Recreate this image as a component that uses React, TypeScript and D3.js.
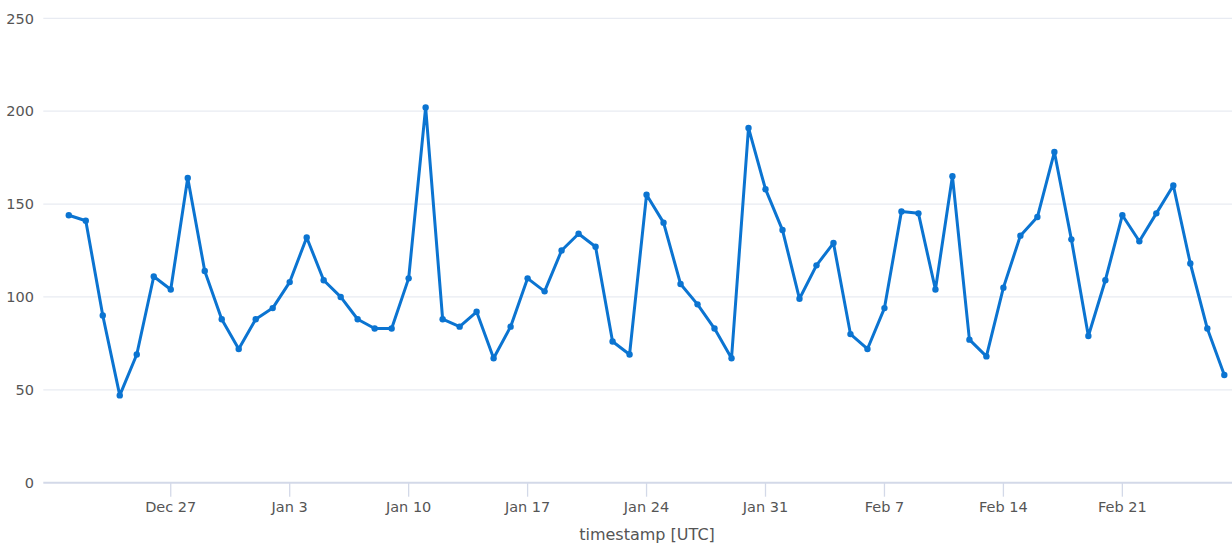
import React, { useEffect, useRef } from "react";
import * as d3 from "d3";

const startDate = "2020-12-21";
const values: number[] = [
  144, 141, 90, 47, 69, 111, 104, 164, 114, 88, 72, 88, 94, 108, 132, 109, 100, 88, 83, 83,
  110, 202, 88, 84, 92, 67, 84, 110, 103, 125, 134, 127, 76, 69, 155, 140, 107, 96, 83, 67,
  191, 158, 136, 99, 117, 129, 80, 72, 94, 146, 145, 104, 165, 77, 68, 105, 133, 143, 178, 131,
  79, 109, 144, 130, 145, 160, 118, 83, 58,
];
const xTickDates = ["2020-12-27", "2021-01-03", "2021-01-10", "2021-01-17", "2021-01-24", "2021-01-31", "2021-02-07", "2021-02-14", "2021-02-21"];
const yTicks = [0, 50, 100, 150, 200, 250];
const xTitle = "timestamp [UTC]";

const W = 1232;
const H = 548;
const FONT = "'DejaVu Sans', Verdana, sans-serif";

export default function App() {
  const ref = useRef<SVGSVGElement>(null);
  useEffect(() => {
    const svg = d3.select(ref.current);
    svg.selectAll("*").remove();
    const day = 86400000;
    const t0 = d3.utcParse("%Y-%m-%d")(startDate)!;
    const data = values.map((v, i) => ({ date: new Date(t0.getTime() + i * day), value: v }));
    const left = 43.3;
    const pxPerDay = 16.993;
    const dMin = new Date(t0.getTime() - 1.5 * day);
    const dMax = new Date(data[data.length - 1].date.getTime() + 1.5 * day);
    const right = left + ((dMax.getTime() - dMin.getTime()) / day) * pxPerDay;
    const x = d3.scaleUtc().domain([dMin, dMax]).range([left, right]);
    const y = d3.scaleLinear().domain([0, 250]).range([482.7, 18.3]);

    // gridlines
    svg.append("g")
      .selectAll("line")
      .data(yTicks)
      .join("line")
      .attr("x1", left)
      .attr("x2", W)
      .attr("y1", (d) => y(d))
      .attr("y2", (d) => y(d))
      .attr("stroke", (d) => (d === 0 ? "#d3d9e8" : "#e8ebf2"))
      .attr("stroke-width", (d) => (d === 0 ? 2 : 1.3));

    // y labels
    svg.append("g")
      .selectAll("text")
      .data(yTicks)
      .join("text")
      .attr("x", 34)
      .attr("y", (d) => y(d))
      .attr("dy", "0.36em")
      .attr("text-anchor", "end")
      .attr("font-family", FONT)
      .attr("font-size", 14.5)
      .attr("fill", "#555")
      .text((d) => String(d));

    // x ticks
    const parse = d3.utcParse("%Y-%m-%d");
    const fmt = d3.utcFormat("%b %-d");
    const tickDates = xTickDates.map((s) => parse(s)!);
    const gx = svg.append("g");
    gx.selectAll("line")
      .data(tickDates)
      .join("line")
      .attr("x1", (d) => x(d))
      .attr("x2", (d) => x(d))
      .attr("y1", y(0))
      .attr("y2", y(0) + 14)
      .attr("stroke", "#d3d9e8")
      .attr("stroke-width", 1.3);
    gx.selectAll("text")
      .data(tickDates)
      .join("text")
      .attr("x", (d) => x(d))
      .attr("y", 512)
      .attr("text-anchor", "middle")
      .attr("font-family", FONT)
      .attr("font-size", 14.5)
      .attr("fill", "#555")
      .text((d) => fmt(d));

    svg.append("text")
      .attr("x", 647)
      .attr("y", 540)
      .attr("text-anchor", "middle")
      .attr("font-family", FONT)
      .attr("font-size", 16)
      .attr("fill", "#555")
      .text(xTitle);

    const line = d3.line<{ date: Date; value: number }>()
      .x((d) => x(d.date))
      .y((d) => y(d.value));
    svg.append("path")
      .datum(data)
      .attr("d", line)
      .attr("fill", "none")
      .attr("stroke", "#0b74d1")
      .attr("stroke-width", 3)
      .attr("stroke-linejoin", "round");
    svg.append("g")
      .selectAll("circle")
      .data(data)
      .join("circle")
      .attr("cx", (d) => x(d.date))
      .attr("cy", (d) => y(d.value))
      .attr("r", 3.2)
      .attr("fill", "#0b74d1");
  }, []);
  return (
    <svg
      ref={ref}
      width={W}
      height={H}
      style={{ position: "absolute", left: 0, top: 0, background: "#fff" }}
    />
  );
}
